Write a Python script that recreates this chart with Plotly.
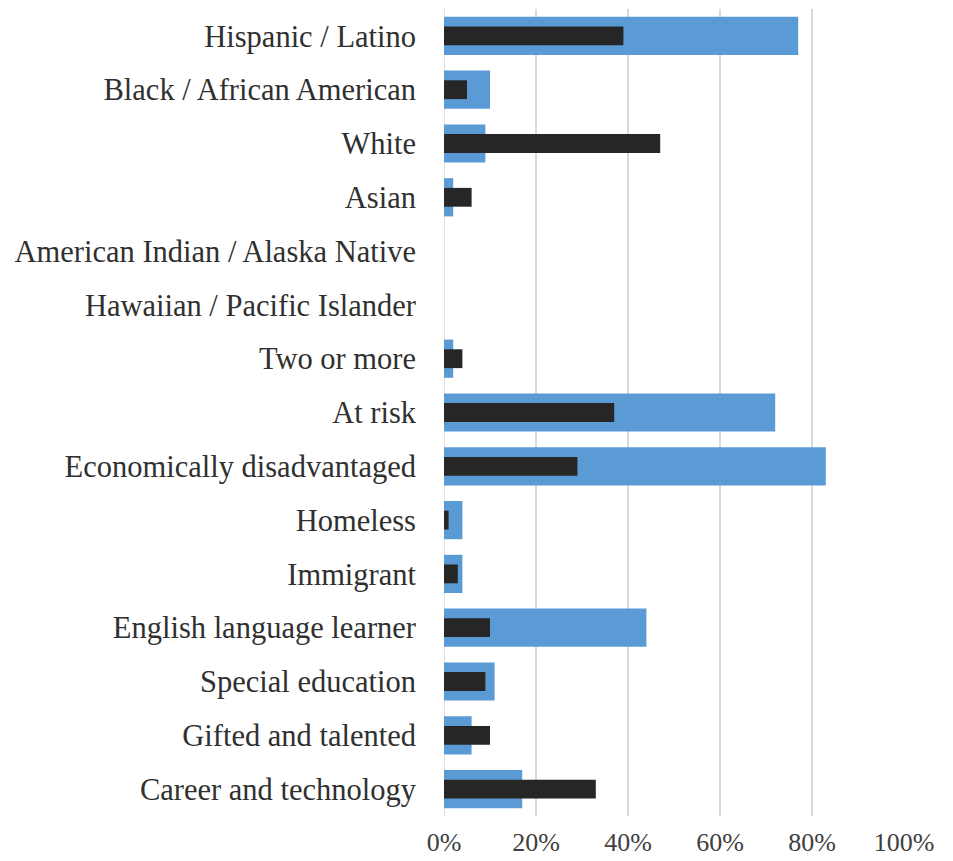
import plotly.graph_objects as go

categories = [
    "Hispanic / Latino",
    "Black / African American",
    "White",
    "Asian",
    "American Indian / Alaska Native",
    "Hawaiian / Pacific Islander",
    "Two or more",
    "At risk",
    "Economically disadvantaged",
    "Homeless",
    "Immigrant",
    "English language learner",
    "Special education",
    "Gifted and talented",
    "Career and technology",
]
blue_values = [0.77, 0.10, 0.09, 0.02, 0.0, 0.0, 0.02, 0.72, 0.83, 0.04, 0.04, 0.44, 0.11, 0.06, 0.17]
dark_values = [0.39, 0.05, 0.47, 0.06, 0.0, 0.0, 0.04, 0.37, 0.29, 0.01, 0.03, 0.10, 0.09, 0.10, 0.33]
tick_vals = [0, 0.2, 0.4, 0.6, 0.8, 1.0]
tick_text = ["0%", "20%", "40%", "60%", "80%", "100%"]

fig = go.Figure()
fig.add_trace(go.Bar(
    y=categories, x=blue_values, orientation="h", width=0.71,
    marker=dict(color="#5B9BD5", line=dict(width=0)),
    showlegend=False,
))
fig.add_trace(go.Bar(
    y=categories, x=dark_values, orientation="h", width=0.35,
    marker=dict(color="#262626", line=dict(width=0)),
    showlegend=False,
))

fig.update_layout(
    barmode="overlay",
    width=953, height=861,
    margin=dict(l=444, r=49, t=9, b=45),
    plot_bgcolor="white", paper_bgcolor="white",
    font=dict(family="Liberation Serif", color="#262626"),
)
fig.update_xaxes(
    range=[0, 1], tickvals=tick_vals, ticktext=tick_text,
    showgrid=True, gridcolor="#D9D9D9", gridwidth=1.5,
    zeroline=False, showline=False, automargin=False,
    tickfont=dict(size=26, color="#404040"),
    ticks="", ticklen=0, ticklabelstandoff=8,
)
fig.update_yaxes(
    categoryorder="array", categoryarray=categories, autorange="reversed",
    showgrid=False, zeroline=False, showline=False, automargin=False,
    tickfont=dict(size=30.5, color="#303030"), ticks="", ticklen=0,
    ticklabelstandoff=27,
)
fig.add_shape(type="line", xref="x", yref="paper", x0=0, x1=0, y0=0, y1=1,
              line=dict(color="#D9D9D9", width=1.5), layer="below")

fig.write_html("out.html")
